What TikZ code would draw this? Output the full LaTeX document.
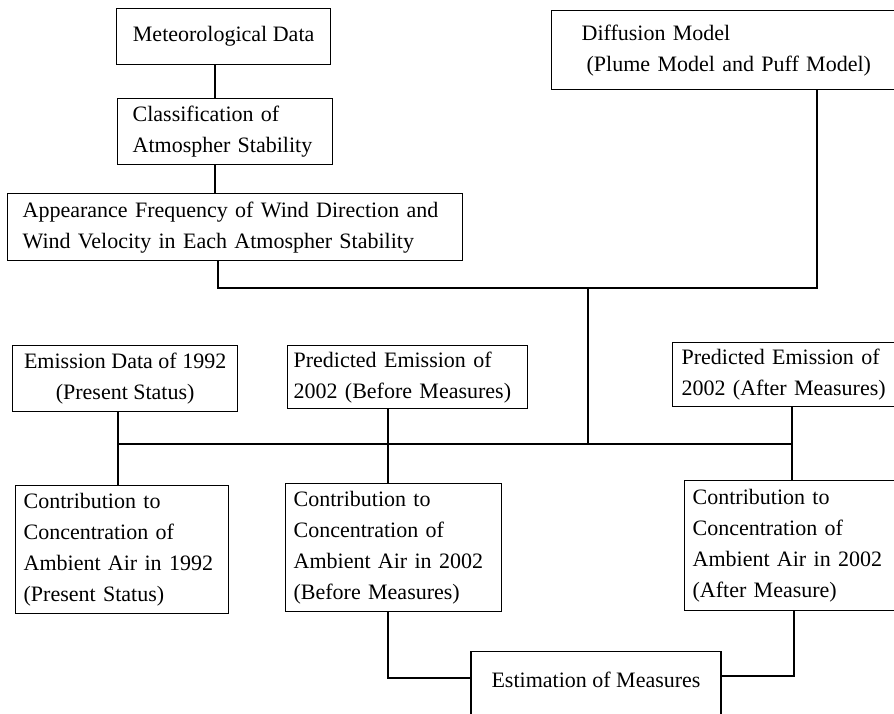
\documentclass[tikz,border=0pt]{standalone}
\usepackage{fontspec}
\setmainfont{Liberation Serif}
\begin{document}
\begin{tikzpicture}[x=1pt,y=-1pt,
  box/.style={draw, line width=1.3pt, anchor=north west, inner sep=0pt, font=\fontsize{22}{31}\selectfont},
  conn/.style={line width=1.6pt},
  bus/.style={line width=1.1pt}]
\useasboundingbox (0,0) rectangle (894,713);
\clip (0,0) rectangle (894,713);
% boxes
\node[box, minimum width=214pt, minimum height=56pt, align=center] (met) at (116,8) {Meteorological Data};
\node[box, text width=185pt, inner xsep=15pt, minimum height=66pt, align=left] (cls) at (117,98) {Classification of\\Atmospher Stability};
\node[box, text width=425pt, inner xsep=15pt, minimum height=67pt, align=left] (app) at (7,193) {Appearance Frequency of Wind Direction and\\Wind Velocity in Each Atmospher Stability};
\node[box, text width=400pt, inner xsep=30pt, minimum height=79pt, align=left] (dif) at (551,10) {Diffusion Model\\\hspace*{5pt}(Plume Model and Puff Model)};
\node[box, minimum width=225pt, minimum height=66pt, align=center] (emi) at (12,345) {Emission Data of 1992\\(Present Status)};
\node[box, text width=228pt, inner xsep=6pt, minimum height=63pt, align=left] (preb) at (287,345) {Predicted Emission of\\2002 (Before Measures)};
\node[box, text width=240pt, inner xsep=9pt, minimum height=64pt, align=left] (prea) at (672,342) {Predicted Emission of\\2002 (After Measures)};
\node[box, text width=197pt, inner xsep=8pt, minimum height=128pt, align=left] (con1) at (15,485) {Contribution to\\Concentration of\\Ambient Air in 1992\\(Present Status)};
\node[box, text width=200pt, inner xsep=8pt, minimum height=128pt, align=left] (conb) at (285,483) {Contribution to\\Concentration of\\Ambient Air in 2002\\(Before Measures)};
\node[box, text width=240pt, inner xsep=8pt, minimum height=130pt, align=left] (cona) at (684,480) {Contribution to\\Concentration of\\Ambient Air in 2002\\(After Measure)};
\node[box, anchor=north, minimum width=250pt, inner ysep=20pt, text depth=80pt] (est) at (596,651) {Estimation of Measures};
% connector positions
\coordinate (xa) at (215,0);
\coordinate (xb) at (218,0);
\coordinate (xd) at (817,0);
\coordinate (j1) at (588,288);
\coordinate (j2) at (588,444);
\coordinate (bl) at (118,444);
\coordinate (br) at (792,444);
\coordinate (xc) at (388,0);
\coordinate (e1) at (388,678);
\coordinate (e2) at (794,676);
% connectors
\draw[conn] (met.south -| xa) -- (cls.north -| xa);
\draw[conn] (cls.south -| xa) -- (app.north -| xa);
\draw[conn] (app.south -| xb) |- (j1) -| (dif.south -| xd);
\draw[conn] (j1) -- (j2);
\draw[bus] (bl) -- (br);
\draw[conn] (emi.south -| bl) -- (con1.north -| bl);
\draw[conn] (preb.south -| xc) -- (conb.north -| xc);
\draw[conn] (prea.south -| br) -- (cona.north -| br);
\draw[conn] (conb.south -| e1) |- (est.west |- e1);
\draw[conn] (cona.south -| e2) |- (est.east |- e2);
\end{tikzpicture}
\end{document}
